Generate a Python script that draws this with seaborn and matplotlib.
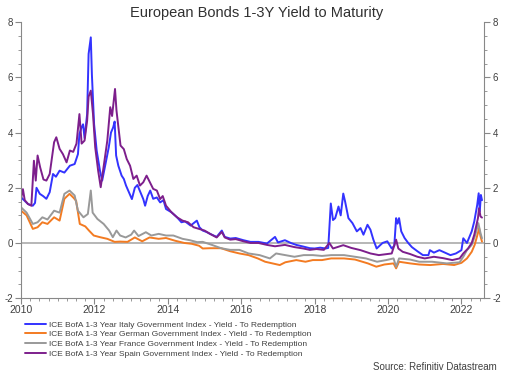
import matplotlib
matplotlib.use("Agg")
import matplotlib.pyplot as plt
from matplotlib.ticker import MultipleLocator
import seaborn as sns
import pandas as pd

sns.set_theme(style="white")
plt.rcParams['font.family'] = ['Liberation Sans', 'DejaVu Sans']
plt.rcParams['axes.unicode_minus'] = False

# Dates as decimal years, yields in %
italy_t = [2010.00, 2010.08, 2010.19, 2010.32, 2010.38, 2010.42, 2010.51, 2010.60, 2010.69, 2010.78,
           2010.87, 2010.95, 2011.05, 2011.18, 2011.33, 2011.46, 2011.55, 2011.59, 2011.65, 2011.69,
           2011.73, 2011.80, 2011.84, 2011.90, 2011.93, 2011.99, 2012.06, 2012.15, 2012.21, 2012.30,
           2012.39, 2012.45, 2012.51, 2012.55, 2012.59, 2012.65, 2012.74, 2012.80, 2012.86, 2013.02,
           2013.10, 2013.17, 2013.33, 2013.38, 2013.45, 2013.52, 2013.60, 2013.70, 2013.79, 2013.88,
           2013.95, 2014.10, 2014.25, 2014.37, 2014.47, 2014.62, 2014.79, 2014.86, 2014.95, 2015.05,
           2015.15, 2015.33, 2015.47, 2015.55, 2015.70, 2015.85, 2016.06, 2016.25, 2016.47, 2016.70,
           2016.92, 2017.00, 2017.19, 2017.35, 2017.50, 2017.69, 2017.87, 2018.00, 2018.15, 2018.30,
           2018.37, 2018.44, 2018.50, 2018.56, 2018.65, 2018.71, 2018.78, 2018.83, 2018.92, 2019.03,
           2019.15, 2019.25, 2019.33, 2019.44, 2019.52, 2019.60, 2019.69, 2019.85, 2019.98, 2020.10,
           2020.17, 2020.22, 2020.26, 2020.30, 2020.36, 2020.45, 2020.55, 2020.65, 2020.80, 2020.95,
           2021.10, 2021.14, 2021.25, 2021.40, 2021.55, 2021.70, 2021.85, 2022.00, 2022.05, 2022.15,
           2022.28, 2022.35, 2022.43, 2022.47, 2022.50, 2022.53, 2022.56]
italy_y = [1.65, 1.55, 1.41, 1.35, 1.45, 2.0, 1.78, 1.70, 1.6, 1.84,
           2.5, 2.4, 2.62, 2.55, 2.8, 2.86, 3.22, 3.95, 4.2, 4.3,
           3.8, 4.67, 6.85, 7.45, 6.1, 4.3, 3.35, 2.62, 2.26, 2.86,
           3.47, 4.0, 4.19, 4.4, 3.17, 2.8, 2.44, 2.32, 2.08, 1.59,
           2.0, 2.1, 1.59, 1.35, 1.7, 1.9, 1.6, 1.65, 1.47, 1.55,
           1.23, 1.11, 0.93, 0.75, 0.78, 0.63, 0.81, 0.57, 0.45, 0.40,
           0.33, 0.22, 0.45, 0.22, 0.16, 0.18, 0.10, 0.04, 0.04, -0.02,
           0.22, 0.02, 0.10, 0.0, -0.07, -0.13, -0.19, -0.2, -0.17, -0.2,
           -0.18, 1.43, 0.83, 0.9, 1.32, 1.0, 1.79, 1.5, 0.9, 0.72,
           0.42, 0.54, 0.3, 0.66, 0.48, 0.12, -0.2, 0.0, 0.06, -0.2,
           -0.1, 0.9, 0.7, 0.9, 0.42, 0.18, 0.0, -0.15, -0.3, -0.44,
           -0.44, -0.26, -0.35, -0.26, -0.35, -0.44, -0.38, -0.26, 0.17, 0.0,
           0.42, 0.78, 1.38, 1.8, 1.14, 1.74, 1.55]

spain_t = [2010.00, 2010.05, 2010.10, 2010.19, 2010.28, 2010.35, 2010.40, 2010.45, 2010.52, 2010.61,
           2010.69, 2010.78, 2010.90, 2010.96, 2011.05, 2011.14, 2011.24, 2011.33, 2011.42, 2011.51,
           2011.59, 2011.65, 2011.73, 2011.80, 2011.84, 2011.90, 2011.96, 2012.02, 2012.10, 2012.17,
           2012.26, 2012.35, 2012.43, 2012.48, 2012.56, 2012.60, 2012.71, 2012.80, 2012.88, 2012.97,
           2013.06, 2013.15, 2013.24, 2013.33, 2013.42, 2013.51, 2013.60, 2013.70, 2013.79, 2013.86,
           2013.95, 2014.10, 2014.25, 2014.40, 2014.55, 2014.70, 2014.85, 2015.00, 2015.15, 2015.33,
           2015.47, 2015.55, 2015.70, 2015.85, 2016.06, 2016.25, 2016.47, 2016.70, 2016.92, 2017.19,
           2017.45, 2017.69, 2017.87, 2018.05, 2018.25, 2018.40, 2018.50, 2018.78, 2019.00, 2019.25,
           2019.52, 2019.75, 2020.10, 2020.22, 2020.28, 2020.40, 2020.60, 2020.80, 2021.00, 2021.25,
           2021.50, 2021.75, 2021.95, 2022.05, 2022.18, 2022.28, 2022.35, 2022.45, 2022.48, 2022.52,
           2022.56]
spain_y = [1.6, 1.95, 1.55, 1.41, 1.35, 2.98, 2.26, 3.17, 2.74, 2.3,
           2.26, 2.5, 3.65, 3.83, 3.41, 3.22, 2.92, 3.35, 3.3, 3.6,
           4.67, 3.6, 3.71, 4.43, 5.3, 5.52, 4.67, 3.47, 2.62, 2.02,
           2.86, 3.71, 4.92, 4.6, 5.58, 4.8, 3.53, 3.4, 3.04, 2.8,
           2.32, 2.44, 2.08, 2.2, 2.44, 2.2, 1.96, 1.9, 1.59, 1.7,
           1.35, 1.11, 0.93, 0.81, 0.75, 0.57, 0.51, 0.45, 0.33, 0.2,
           0.4, 0.2, 0.12, 0.14, 0.06, 0.0, 0.0, -0.07, -0.12, -0.07,
           -0.15, -0.2, -0.25, -0.22, -0.25, 0.0, -0.2, -0.08, -0.18, -0.26,
           -0.38, -0.44, -0.38, 0.12, -0.2, -0.32, -0.4, -0.5, -0.56, -0.5,
           -0.55, -0.62, -0.56, -0.38, -0.2, 0.0, 0.3, 0.9, 1.26, 0.96,
           0.92]

france_t = [2010.00, 2010.15, 2010.32, 2010.45, 2010.58, 2010.72, 2010.90, 2011.05, 2011.18, 2011.32,
            2011.46, 2011.55, 2011.70, 2011.82, 2011.90, 2011.95, 2012.08, 2012.25, 2012.40, 2012.50,
            2012.60, 2012.70, 2012.85, 2013.00, 2013.08, 2013.20, 2013.40, 2013.55, 2013.75, 2013.95,
            2014.15, 2014.40, 2014.60, 2014.80, 2014.95, 2015.20, 2015.45, 2015.70, 2015.95, 2016.20,
            2016.50, 2016.78, 2016.95, 2017.20, 2017.45, 2017.70, 2017.95, 2018.20, 2018.45, 2018.80,
            2019.10, 2019.40, 2019.70, 2019.95, 2020.15, 2020.22, 2020.30, 2020.60, 2020.85, 2021.20,
            2021.60, 2021.95, 2022.05, 2022.15, 2022.28, 2022.38, 2022.46, 2022.52, 2022.56]
france_y = [1.29, 1.1, 0.69, 0.75, 0.93, 0.85, 1.17, 1.1, 1.78, 1.9,
            1.72, 1.17, 0.93, 1.05, 1.9, 1.1, 0.87, 0.69, 0.45, 0.21,
            0.45, 0.27, 0.2, 0.3, 0.45, 0.25, 0.39, 0.27, 0.33, 0.27,
            0.27, 0.15, 0.1, 0.03, 0.04, -0.07, -0.19, -0.25, -0.25, -0.38,
            -0.44, -0.56, -0.38, -0.44, -0.5, -0.44, -0.44, -0.47, -0.44, -0.44,
            -0.5, -0.56, -0.68, -0.62, -0.56, -0.86, -0.56, -0.6, -0.68, -0.68,
            -0.74, -0.7, -0.5, -0.26, -0.07, 0.3, 0.72, 0.36, 0.17]

germany_t = [2010.00, 2010.15, 2010.32, 2010.45, 2010.58, 2010.72, 2010.90, 2011.05, 2011.18, 2011.32,
             2011.42, 2011.50, 2011.60, 2011.75, 2011.85, 2011.98, 2012.15, 2012.35, 2012.55, 2012.70,
             2012.90, 2013.10, 2013.30, 2013.50, 2013.75, 2013.95, 2014.20, 2014.45, 2014.65, 2014.85,
             2014.95, 2015.15, 2015.45, 2015.70, 2015.95, 2016.20, 2016.45, 2016.65, 2016.85, 2017.05,
             2017.20, 2017.50, 2017.75, 2017.95, 2018.20, 2018.45, 2018.80, 2019.10, 2019.45, 2019.68,
             2019.90, 2020.15, 2020.22, 2020.30, 2020.60, 2020.85, 2021.15, 2021.50, 2021.80, 2022.00,
             2022.15, 2022.28, 2022.36, 2022.45, 2022.48, 2022.52, 2022.56]
germany_y = [1.17, 1.0, 0.51, 0.57, 0.75, 0.69, 0.93, 0.81, 1.6, 1.78,
             1.65, 1.53, 0.69, 0.6, 0.45, 0.27, 0.21, 0.15, 0.04, 0.05,
             0.04, 0.2, 0.06, 0.2, 0.15, 0.18, 0.08, 0.0, -0.03, -0.1,
             -0.2, -0.19, -0.19, -0.3, -0.38, -0.44, -0.56, -0.68, -0.74, -0.8,
             -0.7, -0.62, -0.68, -0.62, -0.62, -0.56, -0.56, -0.6, -0.74, -0.86,
             -0.78, -0.74, -0.92, -0.68, -0.74, -0.78, -0.8, -0.76, -0.8, -0.72,
             -0.56, -0.32, -0.07, 0.36, 0.54, 0.24, 0.05]

labels = ["ICE BofA 1-3 Year Italy Government Index - Yield - To Redemption",
          "ICE BofA 1-3 Year German Government Index - Yield - To Redemption",
          "ICE BofA 1-3 Year France Government Index - Yield - To Redemption",
          "ICE BofA 1-3 Year Spain Government Index - Yield - To Redemption"]
colors = ["#3333ff", "#f37b22", "#999999", "#7d1f8c"]

frames = []
for lab, t, y in zip(labels, [italy_t, germany_t, france_t, spain_t],
                     [italy_y, germany_y, france_y, spain_y]):
    frames.append(pd.DataFrame({"date": t, "yield": y, "series": lab}))
df = pd.concat(frames, ignore_index=True)

fig = plt.figure(figsize=(5.14, 3.76), dpi=100)
ax = fig.add_axes([0.041, 0.207, 0.901, 0.734])
ax.axhline(0, color="#aaaaaa", linewidth=1.2, zorder=1)

# Draw Spain last so it sits on top like the reference
order = [labels[1], labels[2], labels[0], labels[3]]
for lab in order:
    sub = df[df["series"] == lab]
    sns.lineplot(data=sub, x="date", y="yield", color=colors[labels.index(lab)],
                 linewidth=1.4, estimator=None, sort=True, ax=ax, label=lab)

ax.set_xlim(2010.0, 2022.62)
ax.set_ylim(-2, 8)
ax.set_xlabel("")
ax.set_ylabel("")
ax.xaxis.set_major_locator(MultipleLocator(2))
ax.xaxis.set_minor_locator(MultipleLocator(0.25))
ax.yaxis.set_major_locator(MultipleLocator(2))
ax.yaxis.set_minor_locator(MultipleLocator(0.5))
ax.xaxis.set_major_formatter(matplotlib.ticker.FuncFormatter(lambda v, p: f"{int(round(v))}"))

for side in ["left", "right", "bottom"]:
    ax.spines[side].set_visible(True)
    ax.spines[side].set_color("#888888")
    ax.spines[side].set_linewidth(0.8)
ax.spines["top"].set_visible(False)

ax.tick_params(axis="y", which="both", left=True, right=True, labelleft=True,
               labelright=True, direction="out", colors="#888888", labelcolor="#404040",
               labelsize=7)
ax.tick_params(axis="y", which="major", length=4, width=0.8)
ax.tick_params(axis="y", which="minor", length=2, width=0.6)
ax.tick_params(axis="x", which="both", bottom=True, direction="out", colors="#888888",
               labelcolor="#404040", labelsize=7.5, pad=1)
ax.tick_params(axis="x", which="major", length=4, width=0.8)
ax.tick_params(axis="x", which="minor", length=2, width=0.6)
ax.tick_params(axis="y", pad=2)

fig.text(0.5, 0.965, "European Bonds 1-3Y Yield to Maturity", ha="center", va="center",
         fontsize=10.5, color="#303030")

handles = [ax.get_legend_handles_labels()[0][order.index(l)] for l in labels]
ax.legend(handles, labels, loc="upper left", bbox_to_anchor=(0.048, 0.147),
          bbox_transform=fig.transFigure, frameon=False, fontsize=6, handlelength=2.6,
          handletextpad=0.35, labelspacing=0.22, borderaxespad=0, borderpad=0,
          labelcolor="#404040")

fig.text(0.966, 0.024, "Source: Refinitiv Datastream", ha="right", va="center",
         fontsize=7, color="#404040")

fig.savefig("out.png", dpi=100)
